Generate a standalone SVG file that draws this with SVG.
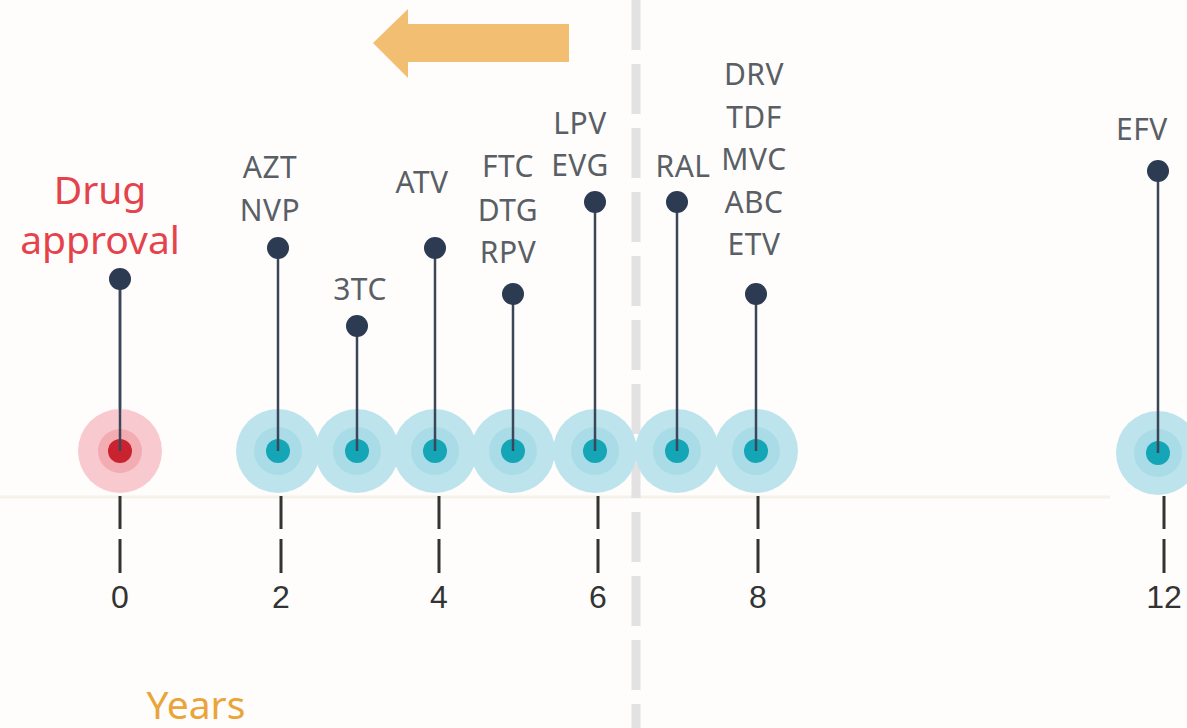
<svg xmlns="http://www.w3.org/2000/svg" width="1187" height="728" viewBox="0 0 1187 728">
<style>
.lbl{font-family:"Noto Sans","Open Sans",sans-serif;font-size:30px;fill:#5a5f66;text-anchor:middle;letter-spacing:0.5px}
.num{font-family:"Liberation Sans",Arial,sans-serif;font-size:32px;fill:#333;text-anchor:middle}
.stem{stroke:#3b4658;stroke-width:2.5}
.top{fill:#2c3b52}
.tick{stroke:#333;stroke-width:3}
.h1{fill:#bde4ed}
.h2{fill:#aadce7}
.h3{fill:#14a6b6}
.r1{fill:#f8c9ce}
.r2{fill:#f4acb3}
.r3{fill:#c9232f}
.big{font-family:"Noto Sans","Open Sans",sans-serif;font-size:39px;text-anchor:middle}
</style>
<defs>
<g id="teal"><circle r="42" class="h1"/><circle r="24" class="h2"/><circle r="12" class="h3"/></g>
<g id="ticks"><line x1="0" y1="496" x2="0" y2="529" class="tick"/><line x1="0" y1="539" x2="0" y2="573" class="tick"/></g>
</defs>
<rect width="1187" height="728" fill="#fefdfb"/>
<line x1="0" y1="497" x2="1110" y2="497" stroke="#f5f1eb" stroke-width="3"/>
<line x1="636" y1="0" x2="636" y2="728" stroke="#e2e2e2" stroke-width="9" stroke-dasharray="50 14"/>
<g id="arrow"><polygon points="373,43 408,9 408,24 569,24 569,62 408,62 408,78" fill="#f2bf72"/></g>
<g id="halos">
<use href="#teal" x="278" y="451"/><use href="#teal" x="357" y="451"/><use href="#teal" x="435" y="451"/><use href="#teal" x="513" y="451"/><use href="#teal" x="595" y="451"/><use href="#teal" x="677" y="451"/><use href="#teal" x="756" y="451"/><use href="#teal" x="1158" y="453"/>
</g>
<g id="connectors">
<line x1="120" y1="279" x2="120" y2="451" class="stem"/>
<line x1="278" y1="248" x2="278" y2="451" class="stem"/>
<line x1="357" y1="326" x2="357" y2="451" class="stem"/>
<line x1="435" y1="248" x2="435" y2="451" class="stem"/>
<line x1="513" y1="294" x2="513" y2="451" class="stem"/>
<line x1="595" y1="202" x2="595" y2="451" class="stem"/>
<line x1="677" y1="202" x2="677" y2="451" class="stem"/>
<line x1="756" y1="294" x2="756" y2="451" class="stem"/>
<line x1="1158" y1="171" x2="1158" y2="453" class="stem"/>
</g>
<g id="n0"><circle cx="120" cy="451" r="42" class="r1"/><circle cx="120" cy="451" r="22" class="r2"/><circle cx="120" cy="451" r="12" class="r3"/><line x1="120" y1="279" x2="120" y2="451" class="stem"/><circle cx="120" cy="279" r="11" class="top"/>
<text x="100" y="204" class="big" fill="#e5434c">Drug</text><text x="100" y="254" class="big" fill="#e5434c">approval</text>
<use href="#ticks" x="120"/><text x="120" y="608" class="num">0</text></g>
<g id="n2"><circle cx="278" cy="248" r="11" class="top"/><text x="270" y="178" class="lbl">AZT</text><text x="270" y="221" class="lbl">NVP</text><use href="#ticks" x="281"/><text x="281" y="608" class="num">2</text></g>
<g id="n3"><circle cx="357" cy="326" r="11" class="top"/><text x="360" y="300" class="lbl">3TC</text></g>
<g id="n4"><circle cx="435" cy="248" r="11" class="top"/><text x="422" y="193" class="lbl">ATV</text><use href="#ticks" x="439"/><text x="439" y="608" class="num">4</text></g>
<g id="n5"><circle cx="513" cy="294" r="11" class="top"/><text x="508" y="177" class="lbl">FTC</text><text x="508" y="221" class="lbl">DTG</text><text x="508" y="263" class="lbl">RPV</text></g>
<g id="n6"><circle cx="595" cy="202" r="11" class="top"/><text x="580" y="134" class="lbl">LPV</text><text x="580" y="176" class="lbl">EVG</text><use href="#ticks" x="598"/><text x="598" y="608" class="num">6</text></g>
<g id="n7"><circle cx="677" cy="202" r="11" class="top"/><text x="683" y="177" class="lbl">RAL</text></g>
<g id="n8"><circle cx="756" cy="294" r="11" class="top"/><text x="754" y="85" class="lbl">DRV</text><text x="754" y="128" class="lbl">TDF</text><text x="754" y="170" class="lbl">MVC</text><text x="754" y="213" class="lbl">ABC</text><text x="754" y="255" class="lbl">ETV</text><use href="#ticks" x="758"/><text x="758" y="608" class="num">8</text></g>
<g id="n12"><circle cx="1158" cy="171" r="11" class="top"/><text x="1116" y="140" class="lbl" style="text-anchor:start">EFV</text><use href="#ticks" x="1164"/><text x="1164" y="608" class="num">12</text></g>
<text x="196" y="719" class="big" fill="#e9a43a">Years</text>
</svg>
